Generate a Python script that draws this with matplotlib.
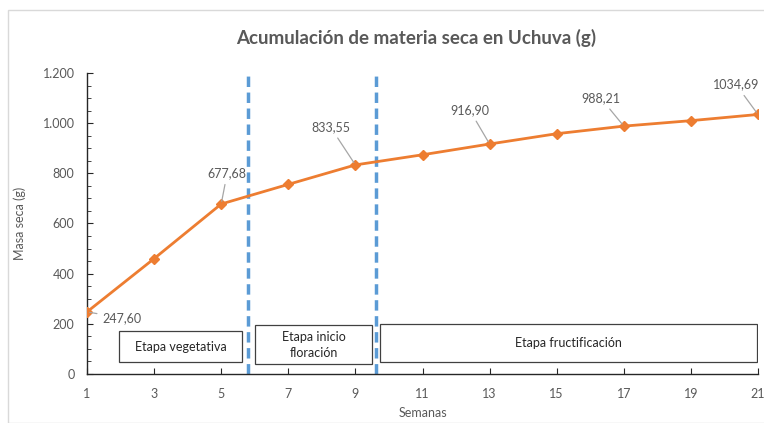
import matplotlib
matplotlib.use("Agg")
import matplotlib.pyplot as plt
from matplotlib.patches import Rectangle, FancyBboxPatch
from matplotlib.ticker import MultipleLocator, FuncFormatter

plt.rcParams['font.family'] = ['Lato', 'DejaVu Sans']

# Data
semanas = [1, 3, 5, 7, 9, 11, 13, 15, 17, 19, 21]
masa = [247.60, 460, 677.68, 756, 833.55, 874, 916.90, 958, 988.21, 1010, 1034.69]
etiquetas = {1: "247,60", 5: "677,68", 9: "833,55", 13: "916,90", 17: "988,21", 21: "1034,69"}
cortes = [5.8, 9.61]
etapas = ["Etapa vegetativa", "Etapa inicio\nfloración", "Etapa fructificación"]

GREY = "#595959"
ORANGE = "#ED7D31"
BLUE = "#5B9BD5"

fig = plt.figure(figsize=(7.64, 4.23), dpi=100)
fig.patches.append(FancyBboxPatch((8 / 764, 0.0), 760 / 764, 413 / 423,
                                  boxstyle="square,pad=0", transform=fig.transFigure,
                                  fill=False, edgecolor="#D9D9D9", linewidth=1))
ax = fig.add_axes([87 / 764, 1 - 374 / 423, (758 - 87) / 764, (374 - 73) / 423])

ax.plot(semanas, masa, color=ORANGE, linewidth=2, marker="D", markersize=5, zorder=3)

for x in cortes:
    ax.axvline(x, color=BLUE, linewidth=2.5, linestyle=(0, (3, 1.6)), zorder=2)

# data labels with leader lines (offsets in pixels)
offsets = {1: (35, -6), 5: (6, 31), 9: (-25, 38), 13: (-20, 34), 17: (-23, 28), 21: (-22, 30)}
for s, m in zip(semanas, masa):
    if s in etiquetas:
        dx, dy = offsets[s]
        ax.annotate(etiquetas[s], xy=(s, m), xytext=(dx, dy), textcoords="offset pixels",
                    ha="center", va="center", fontsize=9, color=GREY,
                    arrowprops=dict(arrowstyle="-", color="#A6A6A6", linewidth=0.9,
                                    shrinkA=2, shrinkB=2))

# stage boxes
cajas = [(1.95, 5.62, 48, 171), (6.01, 9.49, 40, 195), (9.73, 20.97, 48, 199)]
for (x0, x1, y0, y1), texto in zip(cajas, etapas):
    ax.add_patch(Rectangle((x0, y0), x1 - x0, y1 - y0, facecolor="white",
                           edgecolor="#404040", linewidth=0.9, zorder=4))
    ax.text((x0 + x1) / 2, (y0 + y1) / 2, texto, ha="center", va="center",
            fontsize=9, color="#262626", zorder=5, linespacing=1.4)

ax.set_xlim(1, 21)
ax.set_ylim(0, 1200)
ax.set_xticks(semanas)
ax.yaxis.set_major_locator(MultipleLocator(200))
ax.yaxis.set_minor_locator(MultipleLocator(50))
ax.yaxis.set_major_formatter(FuncFormatter(lambda v, p: f"{int(v):,}".replace(",", ".")))

for sp in ["top", "right"]:
    ax.spines[sp].set_visible(False)
for sp in ["left", "bottom"]:
    ax.spines[sp].set_color("#262626")
    ax.spines[sp].set_linewidth(1)

ax.tick_params(axis="both", which="both", direction="in", colors="#262626",
               labelcolor=GREY, labelsize=9)
ax.tick_params(axis="y", which="major", length=4, pad=9)
ax.tick_params(axis="y", which="minor", length=3)
ax.tick_params(axis="x", which="major", length=4, pad=10)

ax.set_xlabel("Semanas", fontsize=9, color=GREY, labelpad=5)
ax.set_ylabel("Masa seca (g)", fontsize=9, color=GREY, labelpad=12)
fig.text(0.545, 1 - 38 / 423, "Acumulación de materia seca en Uchuva (g)",
         ha="center", va="center", fontsize=13.5, fontweight="bold", color=GREY)

fig.savefig("out.png", dpi=100)
